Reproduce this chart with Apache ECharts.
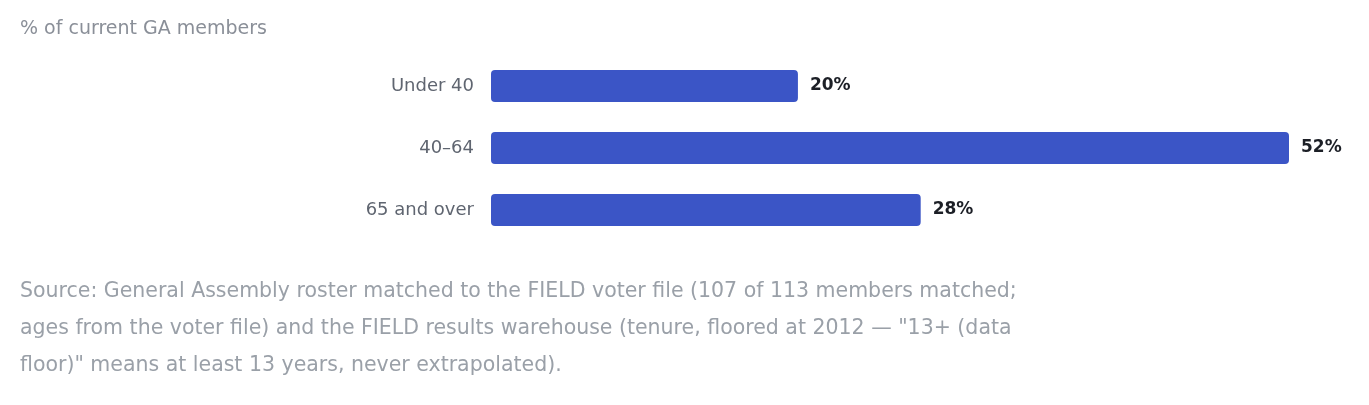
<!DOCTYPE html>
<html><head><meta charset="utf-8">
<script src="https://cdn.jsdelivr.net/npm/echarts@6/dist/echarts.min.js"></script>
<style>html,body{margin:0;padding:0;background:#fff}#c{width:1369px;height:405px}</style>
</head><body><div id="c"></div>
<script>
const categories = ["Under 40", "40–64", "65 and over"];
const values = [20, 52, 28];
const titleText = "% of current GA members";
const sourceLines = [
  "Source: General Assembly roster matched to the FIELD voter file (107 of 113 members matched;",
  "ages from the voter file) and the FIELD results warehouse (tenure, floored at 2012 — \"13+ (data",
  "floor)\" means at least 13 years, never extrapolated)."
];
const font = "'DejaVu Sans', sans-serif";
const chart = echarts.init(document.getElementById('c'));
chart.setOption({
  animation: false,
  grid: {left: 491, width: 798, top: 55, height: 186},
  xAxis: {type: 'value', min: 0, max: 52, show: false},
  yAxis: {type: 'category', data: categories, inverse: true,
    axisLine: {show: false}, axisTick: {show: false},
    axisLabel: {color: '#5f6570', fontSize: 18, margin: 17, fontFamily: font}},
  series: [{type: 'bar', data: values, barWidth: 32,
    itemStyle: {color: '#3b55c6', borderRadius: 4},
    label: {show: true, position: 'right', distance: 12, formatter: '{c}%',
      color: '#1c1f26', fontWeight: 'bold', fontSize: 17, fontFamily: font}}],
  graphic: [
    {type: 'text', left: 20, top: 20, style: {text: titleText, fill: '#8a8f98', font: '19px ' + font}},
    ...sourceLines.map((t, i) => ({type: 'text', left: 20, top: 281 + i * 37,
      style: {text: t, fill: '#9aa0a8', font: '20.5px ' + font}}))
  ]
});
</script></body></html>
